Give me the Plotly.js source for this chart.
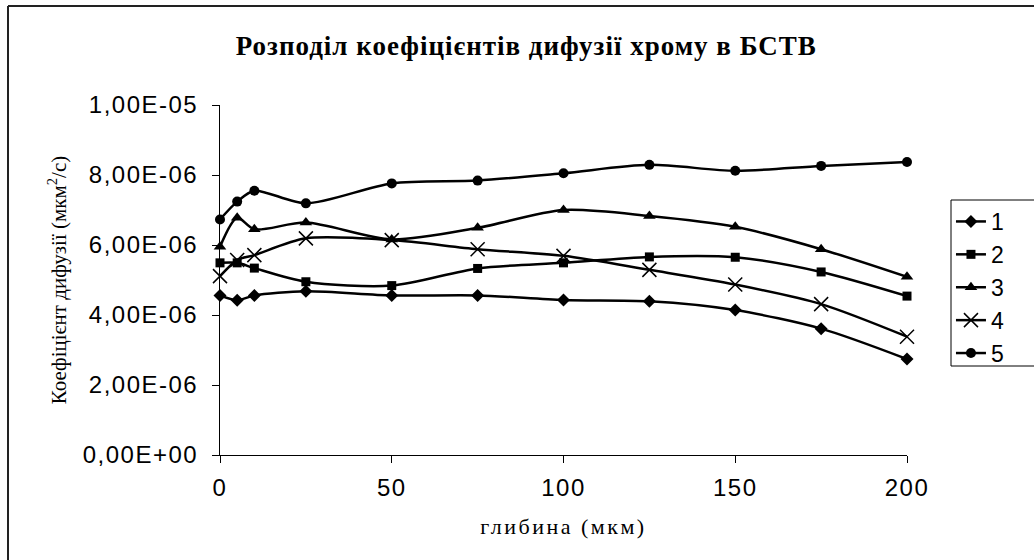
<!DOCTYPE html>
<html>
<head>
<meta charset="utf-8">
<script src="https://cdn.plot.ly/plotly-3.0.1.min.js"></script>
<style>
html,body{margin:0;padding:0;background:#fff;}
#chart{width:1034px;height:560px;}
#chart .xtick text, #chart .ytick text{letter-spacing:1.5px;}
#chart .gtitle{letter-spacing:1px;}
#chart .xtitle{letter-spacing:2.5px;}
</style>
</head>
<body>
<div id="chart"></div>
<script>
// Depth (мкм)
const depth = [0, 5, 10, 25, 50, 75, 100, 125, 150, 175, 200];
// Diffusion coefficients (мкм²/с)
const s1 = [4.56e-6, 4.42e-6, 4.56e-6, 4.68e-6, 4.56e-6, 4.56e-6, 4.43e-6, 4.39e-6, 4.14e-6, 3.61e-6, 2.74e-6];
const s2 = [5.49e-6, 5.49e-6, 5.34e-6, 4.95e-6, 4.84e-6, 5.33e-6, 5.49e-6, 5.66e-6, 5.65e-6, 5.23e-6, 4.54e-6];
const s3 = [5.95e-6, 6.78e-6, 6.45e-6, 6.64e-6, 6.16e-6, 6.49e-6, 7.00e-6, 6.83e-6, 6.52e-6, 5.88e-6, 5.09e-6];
const s4 = [5.11e-6, 5.57e-6, 5.71e-6, 6.19e-6, 6.14e-6, 5.88e-6, 5.69e-6, 5.29e-6, 4.87e-6, 4.31e-6, 3.38e-6];
const s5 = [6.73e-6, 7.24e-6, 7.55e-6, 7.19e-6, 7.76e-6, 7.84e-6, 8.05e-6, 8.29e-6, 8.12e-6, 8.26e-6, 8.37e-6];
const seriesNames = ["1", "2", "3", "4", "5"];
const yTickVals = [0, 2e-6, 4e-6, 6e-6, 8e-6, 1e-5];
const yTickText = ["0,00E+00", "2,00E-06", "4,00E-06", "6,00E-06", "8,00E-06", "1,00E-05"];
const xTickVals = [0, 50, 100, 150, 200];

const symbols = ["diamond", "square", "triangle-up", "x-thin-open", "circle"];
const sizes = [10, 9, 11, 14, 10];
const allY = [s1, s2, s3, s4, s5];

const traces = allY.map((ys, i) => ({
  x: depth,
  y: ys,
  name: seriesNames[i],
  type: "scatter",
  mode: "lines+markers",
  line: {color: "#000", width: 2.5, shape: "spline", smoothing: 0.8},
  marker: {symbol: symbols[i], size: sizes[i], color: "#000",
           line: {color: "#000", width: i === 3 ? 1.5 : 0}},
  cliponaxis: false
}));

const layout = {
  width: 1034, height: 560,
  paper_bgcolor: "#fff", plot_bgcolor: "#fff",
  margin: {l: 220, r: 127, t: 105, b: 105},
  title: {
    text: "<b>Розподіл коефіцієнтів дифузії хрому в БСТВ</b>",
    font: {family: "Liberation Serif, Times New Roman, serif", size: 27, color: "#000"},
    x: 0.509, xref: "container", xanchor: "center", y: 0.918, yanchor: "middle"
  },
  xaxis: {
    range: [0, 200], tickvals: xTickVals, ticktext: xTickVals.map(String),
    showgrid: false, zeroline: false, showline: true, linecolor: "#000", linewidth: 1,
    ticks: "outside", ticklen: 7, tickcolor: "#000", ticklabelstandoff: 4,
    tickfont: {family: "Liberation Sans, Arial, sans-serif", size: 24, color: "#000"},
    title: {text: "глибина (мкм)", standoff: 18,
            font: {family: "Liberation Serif, Times New Roman, serif", size: 22, color: "#000"}}
  },
  yaxis: {
    range: [0, 1e-5], tickvals: yTickVals, ticktext: yTickText,
    showgrid: false, zeroline: false, showline: true, linecolor: "#000", linewidth: 1,
    ticks: "outside", ticklen: 7, tickcolor: "#000", ticklabelstandoff: 9,
    tickfont: {family: "Liberation Sans, Arial, sans-serif", size: 24, color: "#000"},
    title: {text: "Коефіцієнт дифузії (мкм<sup>2</sup>/с)", standoff: 22,
            font: {family: "Liberation Serif, Times New Roman, serif", size: 21, color: "#000"}}
  },
  showlegend: true,
  legend: {
    x: 1.064, xanchor: "left", y: 0.7286, yanchor: "top",
    borderwidth: 0, bgcolor: "rgba(0,0,0,0)",
    font: {family: "Liberation Sans, Arial, sans-serif", size: 23, color: "#000"},
    tracegroupgap: 0
  },
  shapes: [
    {type: "line", xref: "paper", yref: "paper",
     x0: -212/687, x1: 1.2, y0: (455-6)/350, y1: (455-6)/350,
     line: {color: "#222", width: 2}},
    {type: "line", xref: "paper", yref: "paper",
     x0: -212/687, x1: -212/687, y0: (455-6)/350, y1: -0.3,
     line: {color: "#222", width: 2}},
    {type: "rect", xref: "paper", yref: "paper",
     x0: (951-220)/687, x1: (1045-220)/687, y0: (455-366)/350, y1: (455-200)/350,
     line: {color: "#000", width: 1}, fillcolor: "rgba(0,0,0,0)"}
  ]
};

Plotly.newPlot("chart", traces, layout, {displayModeBar: false, staticPlot: true});
</script>
</body>
</html>
